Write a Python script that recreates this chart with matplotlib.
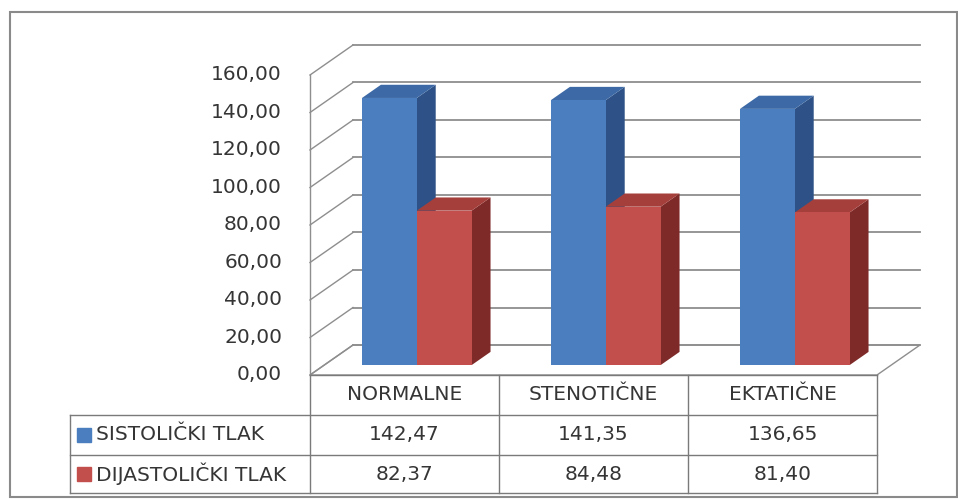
"""
3D stupčasti grafikon s tablicom podataka (sistolički / dijastolički tlak)
"""

import matplotlib.pyplot as plt
from matplotlib.patches import Polygon, Rectangle

# ----- podaci -----
CATEGORIES = ["NORMALNE", "STENOTIČNE", "EKTATIČNE"]
SERIES = ["SISTOLIČKI TLAK", "DIJASTOLIČKI TLAK"]
SISTOLICKI = [142.47, 141.35, 136.65]
DIJASTOLICKI = [82.37, 84.48, 81.40]
Y_TICKS = [0, 20, 40, 60, 80, 100, 120, 140, 160]

# ----- stil -----
FRONT = ["#4A7EBF", "#C24F4B"]
TOP = ["#3D6AA6", "#A53F3B"]
SIDE = ["#2E5287", "#7E2A28"]
GRID = "#8E8E8E"
TXT = "#353535"
FONT = ["DejaVu Sans"]
FS = 14.5

W, H = 958, 499
PX_X = 189.0          # piksela po kategoriji
PX_Y = 1.875          # piksela po jedinici
X0_PX, Y0_PX = 310, 375
DEPTH_X, DEPTH_Y = 43 / PX_X, 30 / PX_Y   # kosa projekcija dubine
BAR_W = 0.29
Z0, Z1 = 0.33, 0.77


def proj(x, y, z):
    return (x + DEPTH_X * z, y + DEPTH_Y * z)


def px2data(px, py):
    return ((px - X0_PX) / PX_X, (Y0_PX - py) / PX_Y)


fig = plt.figure(figsize=(W / 100, H / 100), dpi=100)
ax = fig.add_axes([0, 0, 1, 1])
ax.set_xlim(px2data(0, 0)[0], px2data(W, 0)[0])
ax.set_ylim(px2data(0, H)[1], px2data(0, 0)[1])
ax.axis("off")

n = len(CATEGORIES)
ymax = Y_TICKS[-1]

# vanjski okvir
fx0, fy1 = px2data(10, 12)
fx1, fy0 = px2data(957, 497)
ax.add_patch(Rectangle((fx0, fy0), fx1 - fx0, fy1 - fy0, fill=False,
                       edgecolor="#8A8A8A", linewidth=1.5))

# stražnji zid i lijevi zid - mreža
for v in Y_TICKS:
    a, b = proj(0, v, 1), proj(n, v, 1)
    ax.plot([a[0], b[0]], [a[1], b[1]], color=GRID, linewidth=1.3, zorder=1)
    c = proj(0, v, 0)
    ax.plot([c[0], a[0]], [c[1], a[1]], color=GRID, linewidth=1.0, zorder=1)
    ax.annotate(f"{v:.2f}".replace(".", ","), (0, v), xytext=(-28, 0),
                textcoords="offset pixels", ha="right", va="center",
                fontsize=FS, color=TXT, family=FONT)

# lijeva os i pod
ax.plot([0, 0], [0, ymax], color=GRID, linewidth=1.0, zorder=1)
floor = [proj(0, 0, 0), proj(n, 0, 0), proj(n, 0, 1), proj(0, 0, 1)]
ax.add_patch(Polygon(floor, closed=True, fill=False, edgecolor=GRID,
                     linewidth=1.0, zorder=1))

# stupci
for i in range(n):
    center = i + 0.49
    for s, vals in enumerate([SISTOLICKI, DIJASTOLICKI]):
        v = vals[i]
        x0 = center - BAR_W + s * BAR_W
        x1 = x0 + BAR_W
        front = [proj(x0, 0, Z0), proj(x1, 0, Z0), proj(x1, v, Z0), proj(x0, v, Z0)]
        top = [proj(x0, v, Z0), proj(x1, v, Z0), proj(x1, v, Z1), proj(x0, v, Z1)]
        side = [proj(x1, 0, Z0), proj(x1, 0, Z1), proj(x1, v, Z1), proj(x1, v, Z0)]
        z = 3 + i * 2 + s
        ax.add_patch(Polygon(side, closed=True, facecolor=SIDE[s], edgecolor="none", zorder=z))
        ax.add_patch(Polygon(top, closed=True, facecolor=TOP[s], edgecolor="none", zorder=z))
        ax.add_patch(Polygon(front, closed=True, facecolor=FRONT[s], edgecolor="none", zorder=z))

# tablica podataka
row_y = [0, px2data(0, 415)[1], px2data(0, 455)[1], px2data(0, 493)[1]]
lab_x = px2data(70, 0)[0]
tcol = "#7A7A7A"
# vodoravne linije
ax.plot([0, n], [row_y[0]] * 2, color=tcol, linewidth=1.0, zorder=2)
for ry in row_y[1:]:
    ax.plot([lab_x, n], [ry] * 2, color=tcol, linewidth=1.0, zorder=2)
# okomite linije
ax.plot([lab_x, lab_x], [row_y[1], row_y[3]], color=tcol, linewidth=1.0)
for k in range(n + 1):
    ax.plot([k, k], [row_y[0], row_y[3]], color=tcol, linewidth=1.0)

for i, cat in enumerate(CATEGORIES):
    ax.text(i + 0.5, (row_y[0] + row_y[1]) / 2, cat, ha="center", va="center",
            fontsize=FS, color=TXT, family=FONT)
for r, (name, vals) in enumerate(zip(SERIES, [SISTOLICKI, DIJASTOLICKI])):
    ymid = (row_y[r + 1] + row_y[r + 2]) / 2
    kx = px2data(84, 0)[0]
    ax.plot([kx], [ymid], marker="s", markersize=9.5, color=FRONT[r], linestyle="none")
    ax.text(px2data(96, 0)[0], ymid, name, ha="left", va="center",
            fontsize=FS, color=TXT, family=FONT)
    for i, v in enumerate(vals):
        ax.text(i + 0.5, ymid, f"{v:.2f}".replace(".", ","), ha="center",
                va="center", fontsize=FS, color=TXT, family=FONT)

fig.savefig("out.png", dpi=100)
